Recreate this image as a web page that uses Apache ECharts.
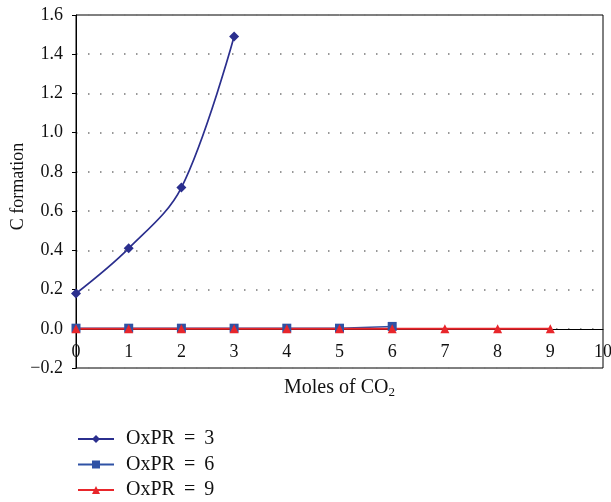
<!DOCTYPE html>
<html><head><meta charset="utf-8">
<script src="https://cdn.jsdelivr.net/npm/echarts@6/dist/echarts.min.js"></script>
<style>html,body{margin:0;padding:0;background:#fff}#c{width:611px;height:502px}</style>
</head><body><div id="c"></div>
<script>
const xs3 = [0, 1, 2, 3];
const ys3 = [0.18, 0.41, 0.72, 1.49];
const xs6 = [0, 1, 2, 3, 4, 5, 6];
const ys6 = [0.003, 0.003, 0.003, 0.003, 0.003, 0.003, 0.012];
const xs9 = [0, 1, 2, 3, 4, 5, 6, 7, 8, 9];
const ys9 = [0, 0, 0, 0, 0, 0, 0, 0, 0, 0];
const names = ['OxPR \u2009= \u20093', 'OxPR \u2009= \u20096', 'OxPR \u2009= \u20099'];
const FONT = 'Liberation Serif';
const pair = (xs, ys) => xs.map((x, i) => [x, ys[i]]);
const GRID_TOP = 15, GRID_H = 353, YMIN = -0.2, YMAX = 1.6;
const zeroOffset = -GRID_H * (0 - YMIN) / (YMAX - YMIN);
const chart = echarts.init(document.getElementById('c'));
chart.setOption({
  animation: false,
  textStyle: {fontFamily: FONT},
  grid: {left: 76, top: GRID_TOP, width: 527, height: GRID_H, containLabel: false, outerBoundsMode: 'none',
    show: true, borderColor: '#000', borderWidth: 1, backgroundColor: 'transparent'},
  legend: {
    orient: 'vertical', left: 77, top: 429, height: 80, padding: 0, itemWidth: 36, itemHeight: 10, itemGap: 5.5,
    textStyle: {fontFamily: FONT, fontSize: 20, color: '#111', lineHeight: 20, padding: [0, 0, 0, 7]},
    data: names
  },
  xAxis: {
    type: 'value', min: 0, max: 10, interval: 1, offset: zeroOffset,
    axisLine: {onZero: false, lineStyle: {color: '#000', width: 1}},
    axisTick: {show: false},
    splitLine: {show: false},
    axisLabel: {color: '#111', fontSize: 18, fontFamily: FONT, margin: 14},
    name: '{a|Moles of CO}{s|2}', nameLocation: 'middle', nameGap: 48, nameMoveOverlap: false,
    nameTextStyle: {rich: {a: {fontSize: 20, fontFamily: FONT, color: '#111'}, s: {fontSize: 13, fontFamily: FONT, color: '#111', verticalAlign: 'bottom', padding: [9, 0, 0, 0]}}}
  },
  yAxis: {
    type: 'value', min: YMIN, max: YMAX, interval: 0.2,
    axisLine: {show: true, onZero: false, lineStyle: {color: '#000', width: 1}},
    axisTick: {show: true, length: 4, lineStyle: {color: '#000'}},
    splitLine: {show: true, lineStyle: {color: '#777', type: [1.5, 10.5], width: 1.5}},
    axisLabel: {color: '#111', fontSize: 18, fontFamily: FONT, margin: 13,
      formatter: v => (v < 0 ? '\u2212' + Math.abs(v).toFixed(1) : v.toFixed(1))},
    name: 'C formation', nameLocation: 'middle', nameGap: 49, nameMoveOverlap: false,
    nameTextStyle: {fontSize: 18, fontFamily: FONT, color: '#111', padding: [0, 0, 0, 10]}
  },
  series: [
    {name: names[0], type: 'line', data: pair(xs3, ys3), smooth: 0.35, symbol: 'diamond', symbolSize: 10,
      color: '#2B2F8E', lineStyle: {width: 1.7}, itemStyle: {color: '#2B2F8E'}},
    {name: names[1], type: 'line', data: pair(xs6, ys6), symbol: 'rect', symbolSize: 9,
      color: '#2F52A5', lineStyle: {width: 1.5}, itemStyle: {color: '#2F52A5'}},
    {name: names[2], type: 'line', data: pair(xs9, ys9), symbol: 'triangle', symbolSize: 9,
      color: '#E8262B', lineStyle: {width: 2}, itemStyle: {color: '#E8262B'}}
  ]
});
</script></body></html>
